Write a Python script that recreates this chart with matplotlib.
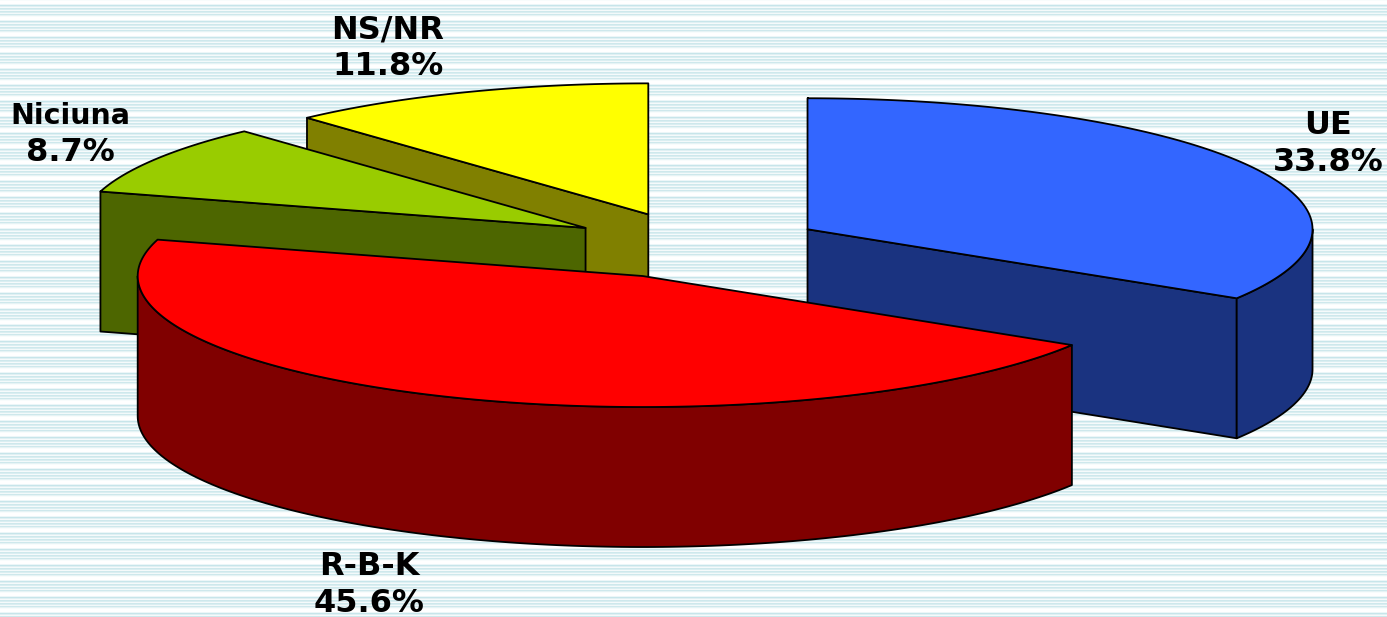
import numpy as np
import matplotlib
matplotlib.use("Agg")
import matplotlib.pyplot as plt
from matplotlib.patches import Polygon

# --- data ---
labels = ["UE", "R-B-K", "Niciuna", "NS/NR"]
values = [33.8, 45.6, 8.7, 11.8]
top_colors = ["#3366FF", "#FF0000", "#99CC00", "#FFFF00"]
side_colors = ["#1A3380", "#800000", "#4D6600", "#808000"]
draw_order = [3, 2, 0, 1]
label_x = [1328, 369, 70, 388]
label_baseline = [171, 612, 161, 75]
name_sizes = [23, 23, 20.5, 23]

# --- pie geometry (pixel space) ---
W, H = 1387, 617
CX, CY = 695, 245.5
A, B = 505, 131
DEPTH = 140
EXPLODE = 0.255
LINE_PITCH = 37

fig = plt.figure(figsize=(W / 100, H / 100), dpi=100)
ax = fig.add_axes([0, 0, 1, 1])
ax.set_xlim(0, W)
ax.set_ylim(H, 0)
ax.axis("off")

# striped background: share of teal in each row of a 16-pixel period
stripe = np.array([.1, 0, 0, 0, .3, .9, .5, .15, .8, .6, .15, .8, .6, .2, .8, .4])
white = np.array([1, 1, 1.])
teal = np.array([.76, .89, .91])
rows = stripe[np.arange(H) % len(stripe)]
bg = (rows[:, None] * teal + (1 - rows[:, None]) * white)[:, None, :]
ax.imshow(bg, extent=(0, W, H, 0), aspect="auto", interpolation="nearest", zorder=0)

fracs = np.array(values) / sum(values)
edges = np.concatenate([[0], np.cumsum(fracs)]) * 2 * np.pi
LW = 1.3

def arc(cx, cy, t0, t1, n=160):
    t = np.linspace(t0, t1, n)
    return np.column_stack([cx + A * np.sin(t), cy - B * np.cos(t)])

z = 1
for i in draw_order:
    t0, t1 = edges[i], edges[i + 1]
    mid = (t0 + t1) / 2
    cx = CX + EXPLODE * A * np.sin(mid)
    cy = CY - EXPLODE * B * np.cos(mid)
    apex = np.array([cx, cy])
    down = np.array([0, DEPTH])
    a_start = arc(cx, cy, t0, t0, 1)[0]
    a_end = arc(cx, cy, t1, t1, 1)[0]
    faces = []
    # cut faces turned to the viewer
    if a_start[1] < cy:
        faces.append(np.array([a_start, apex, apex + down, a_start + down]))
    if a_end[1] > cy:
        faces.append(np.array([apex, a_end, a_end + down, apex + down]))
    # visible outer wall: the part of the rim in the front half
    lo, hi = max(t0, np.pi / 2), min(t1, 3 * np.pi / 2)
    if hi > lo:
        rim = arc(cx, cy, lo, hi)
        faces.append(np.vstack([rim, (rim + down)[::-1]]))
    for f in faces:
        ax.add_patch(Polygon(f, closed=True, fc=side_colors[i], ec="black", lw=LW,
                             joinstyle="round", zorder=z))
        z += 1
    top = np.vstack([apex, arc(cx, cy, t0, t1)])
    ax.add_patch(Polygon(top, closed=True, fc=top_colors[i], ec="black", lw=LW,
                         joinstyle="round", zorder=z))
    z += 1

for lab, val, x, y, size in zip(labels, values, label_x, label_baseline, name_sizes):
    ax.text(x, y - LINE_PITCH, lab, ha="center", va="baseline", fontsize=size,
            fontweight="bold", family="DejaVu Sans", color="black", zorder=z)
    ax.text(x, y, f"{val:.1f}%", ha="center", va="baseline", fontsize=23,
            fontweight="bold", family="DejaVu Sans", color="black", zorder=z)

fig.savefig("out.png", dpi=100)
